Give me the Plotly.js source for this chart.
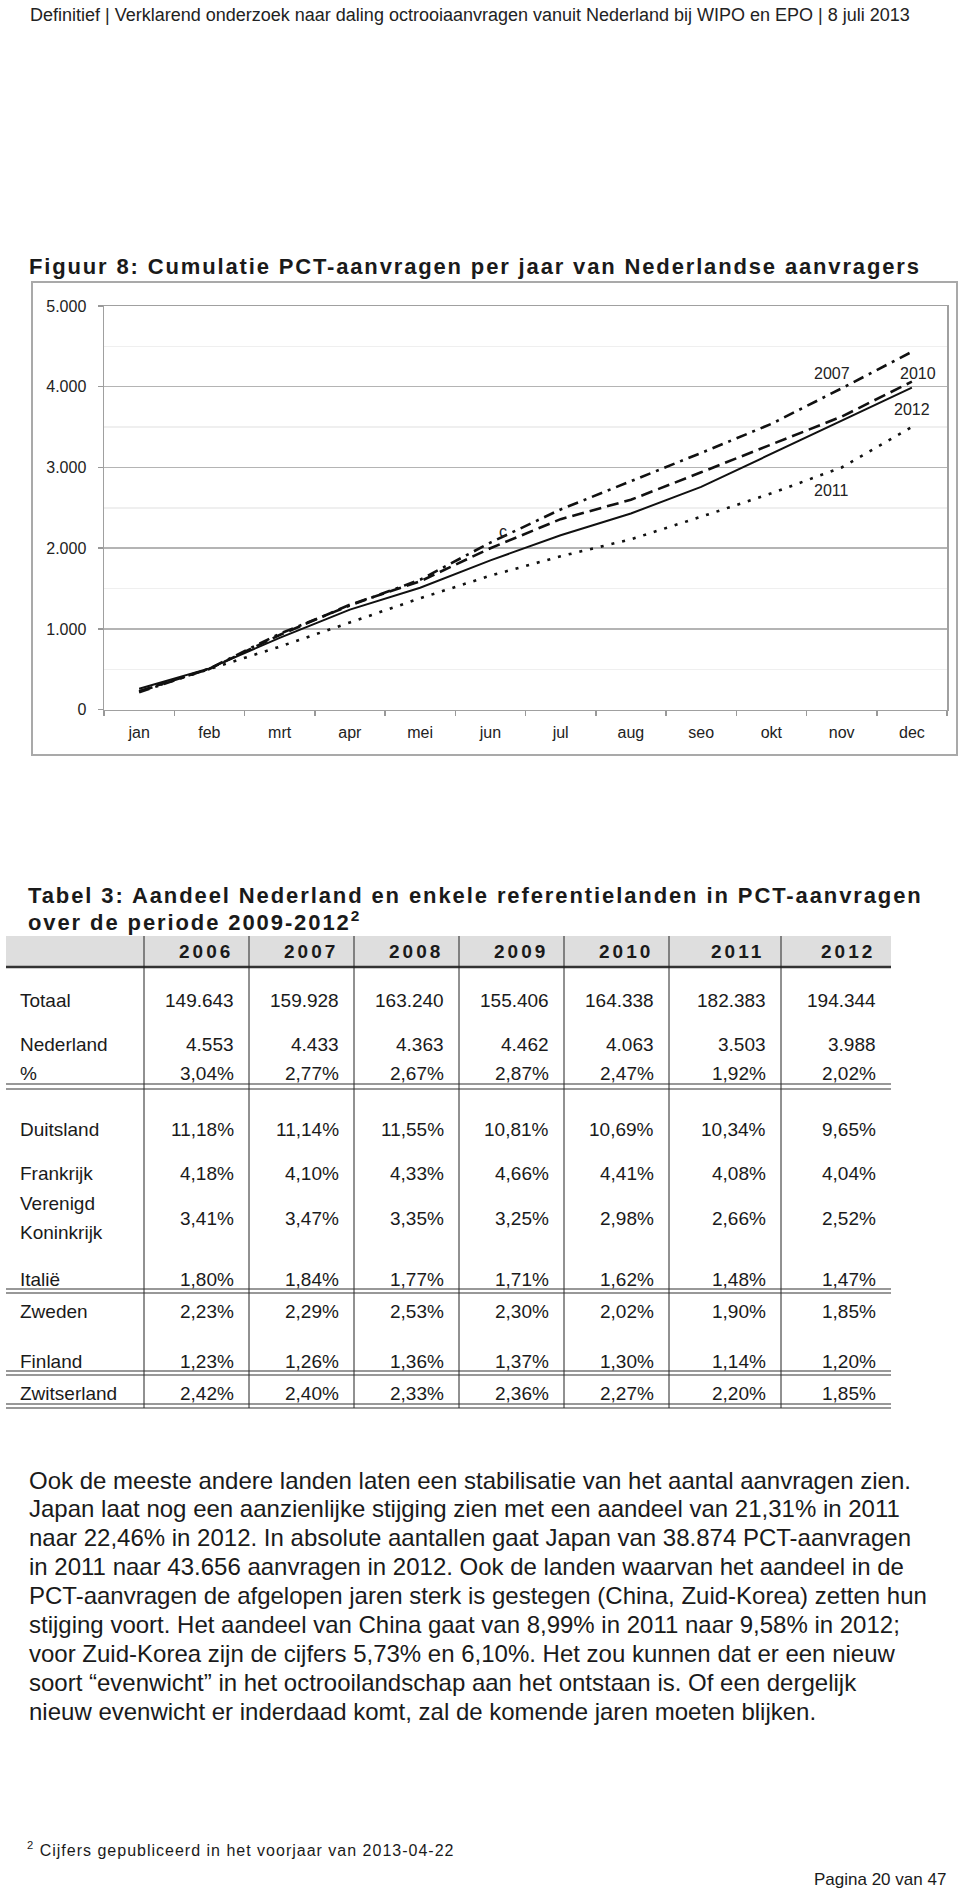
<!DOCTYPE html>
<html><head><meta charset="utf-8">
<script src="https://cdn.plot.ly/plotly-3.0.1.min.js"></script>
<style>html,body{margin:0;padding:0;background:#fff}#page{width:960px;height:1897px}</style>
</head><body><div id="page"></div>
<script>
// ---------- chart data ----------
const months = ['jan','feb','mrt','apr','mei','jun','jul','aug','seo','okt','nov','dec'];
const y2007 = [215, 510, 940, 1290, 1610, 2070, 2480, 2830, 3180, 3540, 3980, 4433];
const y2010 = [230, 505, 925, 1300, 1590, 2000, 2360, 2600, 2940, 3290, 3630, 4063];
const y2012 = [260, 512, 890, 1240, 1510, 1850, 2160, 2430, 2760, 3170, 3575, 3988];
const y2011 = [225, 500, 780, 1080, 1380, 1660, 1900, 2110, 2390, 2680, 3000, 3503];

// ---------- table data ----------
const tableYears = ['2006','2007','2008','2009','2010','2011','2012'];
const totaal     = [149643, 159928, 163240, 155406, 164338, 182383, 194344];
const nederland  = [4553, 4433, 4363, 4462, 4063, 3503, 3988];
const nlPct      = [3.04, 2.77, 2.67, 2.87, 2.47, 1.92, 2.02];
const duitsland  = [11.18, 11.14, 11.55, 10.81, 10.69, 10.34, 9.65];
const frankrijk  = [4.18, 4.10, 4.33, 4.66, 4.41, 4.08, 4.04];
const verenigdK  = [3.41, 3.47, 3.35, 3.25, 2.98, 2.66, 2.52];
const italie     = [1.80, 1.84, 1.77, 1.71, 1.62, 1.48, 1.47];
const zweden     = [2.23, 2.29, 2.53, 2.30, 2.02, 1.90, 1.85];
const finland    = [1.23, 1.26, 1.36, 1.37, 1.30, 1.14, 1.20];
const zwitserland= [2.42, 2.40, 2.33, 2.36, 2.27, 2.20, 1.85];

// ---------- texts ----------
const headerText = 'Definitief | Verklarend onderzoek naar daling octrooiaanvragen vanuit Nederland bij WIPO en EPO | 8 juli 2013';
const chartTitle = 'Figuur 8: Cumulatie PCT-aanvragen per jaar van Nederlandse aanvragers';
const tableTitle1 = 'Tabel 3: Aandeel Nederland en enkele referentielanden in PCT-aanvragen';
const tableTitle2 = 'over de periode 2009-2012<sup>2</sup>';
const bodyLines = [
 'Ook de meeste andere landen laten een stabilisatie van het aantal aanvragen zien.',
 'Japan laat nog een aanzienlijke stijging zien met een aandeel van 21,31% in 2011',
 'naar 22,46% in 2012. In absolute aantallen gaat Japan van 38.874 PCT-aanvragen',
 'in 2011 naar 43.656 aanvragen in 2012. Ook de landen waarvan het aandeel in de',
 'PCT-aanvragen de afgelopen jaren sterk is gestegen (China, Zuid-Korea) zetten hun',
 'stijging voort. Het aandeel van China gaat van 8,99% in 2011 naar 9,58% in 2012;',
 'voor Zuid-Korea zijn de cijfers 5,73% en 6,10%. Het zou kunnen dat er een nieuw',
 'soort \u201cevenwicht\u201d in het octrooilandschap aan het ontstaan is. Of een dergelijk',
 'nieuw evenwicht er inderdaad komt, zal de komende jaren moeten blijken.'
];
const footnote = '<sup>2</sup> Cijfers gepubliceerd in het voorjaar van 2013-04-22';
const pageNo = 'Pagina 20 van 47';

// ---------- helpers ----------
const W = 960, H = 1897;
const px = x => x / W;
const py = y => 1 - y / H;
const fmtInt = n => String(n).replace(/\B(?=(\d{3})+(?!\d))/g, '.');
const fmtPct = v => v.toFixed(2).replace('.', ',') + '%';
const FONT = 'Liberation Sans, Arial, Helvetica, sans-serif';

const annotations = [];
const shapes = [];
const spacing = [];   // [annotation index, letter-spacing px]
function txt(x, y, text, size, opts) {
  opts = opts || {};
  const xa = (opts.extra && opts.extra.xanchor) || 'left';
  annotations.push(Object.assign({
    xref: 'paper', yref: 'paper', x: px(x), y: py(y), text: text,
    showarrow: false, xanchor: 'left', yanchor: 'middle', align: xa === 'center' ? 'center' : xa,
    font: {family: FONT, size: size, color: opts.color || '#1a1a1a', weight: opts.bold ? 'bold' : 'normal'}
  }, opts.extra || {}));
  if (opts.ls) spacing.push([annotations.length - 1, opts.ls]);
}
function hline(x0, x1, y, w, c) {
  shapes.push({type: 'line', xref: 'paper', yref: 'paper', x0: px(x0), x1: px(x1), y0: py(y), y1: py(y),
    line: {color: c || '#222', width: w || 1}});
}
function vline(x, y0, y1, w, c) {
  shapes.push({type: 'line', xref: 'paper', yref: 'paper', x0: px(x), x1: px(x), y0: py(y0), y1: py(y1),
    line: {color: c || '#222', width: w || 1}});
}

// ---------- page texts ----------
txt(28, 15, headerText, 18, {color: '#222'});
txt(27, 267, '<b>' + chartTitle + '</b>', 22, {ls: 1.85});
txt(26, 895, '<b>' + tableTitle1 + '</b>', 22, {ls: 1.9});
txt(26, 921, '<b>' + tableTitle2 + '</b>', 22, {ls: 1.9});
bodyLines.forEach((l, i) => txt(27, 1480 + i * 28.9, l, 24));
txt(25, 1849, footnote, 16, {ls: 1});
txt(948, 1879, pageNo, 17, {extra: {xanchor: 'right'}});

// ---------- chart frame ----------
shapes.push({type: 'rect', xref: 'paper', yref: 'paper', x0: px(32), x1: px(957), y0: py(282), y1: py(755),
  line: {color: '#a9a9a9', width: 2}, fillcolor: 'rgba(0,0,0,0)'});

// chart line labels (in data coordinates)
const lineLabels = [
  {t: '2007', x: 9.86, y: 4158}, {t: '2010', x: 11.09, y: 4158},
  {t: '2012', x: 11.0, y: 3712}, {t: '2011', x: 9.85, y: 2721}, {t: 'c', x: 5.18, y: 2201}
];
lineLabels.forEach(l => annotations.push({xref: 'x', yref: 'y', x: l.x, y: l.y, text: l.t, showarrow: false,
  font: {family: FONT, size: 16, color: '#222'}}));

// ---------- table ----------
const colEdges = [6, 144, 249, 354, 459, 564, 669, 781, 891];
const tTop = 936, tHeadBot = 967, tBot = 1408;
shapes.push({type: 'rect', xref: 'paper', yref: 'paper', x0: px(colEdges[0]), x1: px(colEdges[8]),
  y0: py(tTop), y1: py(tHeadBot), line: {width: 0}, fillcolor: '#dedede', layer: 'below'});
hline(colEdges[0], colEdges[8], tHeadBot, 2.5, '#333');
for (let i = 1; i <= 7; i++) vline(colEdges[i], tTop, tBot, 1, '#222');
[[1084, 1089], [1289, 1293], [1371, 1375], [1404, 1408]].forEach(d => {
  hline(colEdges[0], colEdges[8], d[0], 1.2, '#333');
  hline(colEdges[0], colEdges[8], d[1], 1.2, '#333');
});
tableYears.forEach((yr, i) => {
  const cx = colEdges[i + 2] - 43;
  txt(cx, 951, '<b>' + yr + '</b>', 19, {extra: {xanchor: 'center'}, ls: 3});
});
const rows = [
  {label: 'Totaal', vals: totaal.map(fmtInt), y: 1000},
  {label: 'Nederland', vals: nederland.map(fmtInt), y: 1044},
  {label: '%', vals: nlPct.map(fmtPct), y: 1073},
  {label: 'Duitsland', vals: duitsland.map(fmtPct), y: 1129},
  {label: 'Frankrijk', vals: frankrijk.map(fmtPct), y: 1173},
  {label: ['Verenigd', 'Koninkrijk'], vals: verenigdK.map(fmtPct), y: 1218},
  {label: 'Italië', vals: italie.map(fmtPct), y: 1279},
  {label: 'Zweden', vals: zweden.map(fmtPct), y: 1311},
  {label: 'Finland', vals: finland.map(fmtPct), y: 1361},
  {label: 'Zwitserland', vals: zwitserland.map(fmtPct), y: 1393}
];
rows.forEach(r => {
  if (Array.isArray(r.label)) {
    txt(18, r.y - 14.5, r.label[0], 19);
    txt(18, r.y + 14.5, r.label[1], 19);
  } else txt(18, r.y, r.label, 19);
  r.vals.forEach((v, i) => txt(colEdges[i + 2] - 13, r.y, v, 19, {extra: {xanchor: 'right'}}));
});

// ---------- traces ----------
const mk = (y, dash, w, name) => ({type: 'scatter', mode: 'lines', x: months, y: y, name: name,
  line: {color: '#111', width: w, dash: dash}, hoverinfo: 'skip'});
const traces = [
  mk(y2011, '3px,8px', 2.6, '2011'),
  mk(y2012, 'solid', 2.0, '2012'),
  mk(y2010, '12px,6px', 2.6, '2010'),
  mk(y2007, '11px,6px,3px,6px', 2.6, '2007')
];

const layout = {
  width: W, height: H, margin: {l: 0, r: 0, t: 0, b: 0},
  paper_bgcolor: '#fff', plot_bgcolor: '#fff', showlegend: false,
  separators: ',.',
  font: {family: FONT, color: '#222'},
  xaxis: {domain: [px(104), px(947)], anchor: 'y', type: 'category', categoryarray: months,
    range: [-0.5, 11.5], tickson: 'boundaries', ticks: 'outside', ticklen: 5, tickcolor: '#999', tickwidth: 1.5,
    showline: true, linecolor: '#a0a0a0', linewidth: 1.5, mirror: true, showgrid: false, zeroline: false,
    tickfont: {family: FONT, size: 16, color: '#222'}, ticklabelstandoff: 8, fixedrange: true},
  yaxis: {domain: [py(709.7), py(306)], anchor: 'x', range: [0, 5000], tickvals: [0, 1000, 2000, 3000, 4000, 5000],
    tickformat: ',d', ticks: 'outside', ticklen: 5, tickcolor: '#999', tickwidth: 1.5,
    showline: true, linecolor: '#a0a0a0', linewidth: 1.5, mirror: true,
    showgrid: true, gridcolor: '#b4b4b4', gridwidth: 1.5, zeroline: false,
    minor: {dtick: 500, showgrid: true, gridcolor: '#efefef', gridwidth: 1.5, ticks: ''},
    tickfont: {family: FONT, size: 16, color: '#222'}, ticklabelstandoff: 8, fixedrange: true},
  annotations: annotations, shapes: shapes
};
Plotly.newPlot('page', traces, layout, {staticPlot: true, displayModeBar: false}).then(gd => {
  spacing.forEach(([idx, ls]) => {
    const el = gd.querySelector('.annotation[data-index="' + idx + '"] text.annotation-text');
    if (el) el.style.letterSpacing = ls + 'px';
  });
});
</script></body></html>
